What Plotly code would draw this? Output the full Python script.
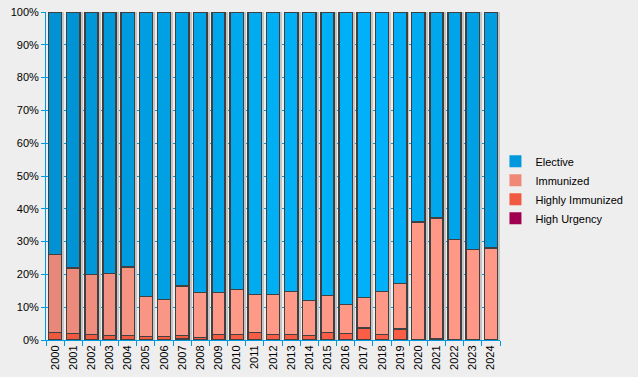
import plotly.graph_objects as go

years = [str(y) for y in range(2000, 2025)]
high_urgency = [0, 0, 0, 0, 0, 0, 0, 0.3, 0, 0, 0, 0, 0, 0, 0, 0, 0, 0, 0, 0, 0, 0.3, 0, 0, 0]
highly_immunized = [2.3, 2.0, 1.7, 1.4, 1.4, 1.1, 1.1, 1.1, 0.8, 1.7, 1.7, 2.3, 1.7, 1.7, 1.4, 2.3, 2.0, 3.6, 1.7, 3.3, 0, 0, 0, 0, 0]
immunized = [23.8, 19.9, 18.3, 18.9, 20.8, 12.2, 11.3, 15.0, 13.7, 12.8, 13.7, 11.6, 12.2, 13.1, 10.7, 11.3, 8.9, 9.4, 13.1, 14.0, 36.0, 36.9, 30.7, 27.6, 28.0]
elective = [73.9, 78.1, 80.0, 79.7, 77.8, 86.7, 87.6, 83.6, 85.5, 85.5, 84.6, 86.1, 86.1, 85.2, 87.9, 86.4, 89.1, 87.0, 85.2, 82.7, 64.0, 62.8, 69.3, 72.4, 72.0]
shadow = [100] * len(years)

n = len(years)

def grad(stops, i):
    for (i0, c0), (i1, c1) in zip(stops, stops[1:]):
        if i0 <= i <= i1:
            t = (i - i0) / (i1 - i0)
            c = [round(a + (b - a) * t) for a, b in zip(c0, c1)]
            return "rgb(%d,%d,%d)" % tuple(c)
    return "rgb(%d,%d,%d)" % tuple(stops[-1][1])

blue_stops = [(0, (0, 146, 210)), (13, (0, 176, 246)), (18, (0, 176, 248)), (24, (0, 158, 224))]
salmon_stops = [(0, (232, 136, 122)), (4, (246, 148, 132)), (10, (255, 154, 136)), (24, (255, 152, 134))]
red_stops = [(0, (240, 88, 64)), (24, (255, 96, 72))]
blue_cols = [grad(blue_stops, i) for i in range(n)]
salmon_cols = [grad(salmon_stops, i) for i in range(n)]
red_cols = [grad(red_stops, i) for i in range(n)]

outline = dict(color="#404040", width=1.5)
fig = go.Figure()
fig.add_trace(go.Bar(x=years, y=shadow, xaxis="x", yaxis="y", marker=dict(color="#c4c4c4", line=dict(width=0)),
                     showlegend=False, hoverinfo="skip"))
fig.add_trace(go.Bar(x=years, y=high_urgency, name="High Urgency", xaxis="x2",
                     marker=dict(color="#a0004f", line=outline), showlegend=False))
fig.add_trace(go.Bar(x=years, y=highly_immunized, name="Highly Immunized", xaxis="x2",
                     marker=dict(color=red_cols, line=outline), showlegend=False))
fig.add_trace(go.Bar(x=years, y=immunized, name="Immunized", xaxis="x2",
                     marker=dict(color=salmon_cols, line=outline), showlegend=False))
fig.add_trace(go.Bar(x=years, y=elective, name="Elective", xaxis="x2",
                     marker=dict(color=blue_cols, line=outline), showlegend=False))

for name, col in [("High Urgency", "#a0004f"), ("Highly Immunized", "#f05a40"),
                  ("Immunized", "#f08878"), ("Elective", "#0099dd")]:
    fig.add_trace(go.Scatter(x=[None], y=[None], mode="markers", name=name, xaxis="x2",
                             marker=dict(symbol="square", size=10, color=col, line=dict(width=0))))

blue = "#0099dd"
fig.update_layout(
    width=638, height=377,
    margin=dict(l=46, r=138, t=12, b=37, autoexpand=False),
    paper_bgcolor="#eeeeee", plot_bgcolor="#eeeeee",
    barmode="stack", bargap=0.27,
    font=dict(family="Liberation Sans, Arial, sans-serif", size=11, color="#000000"),
    xaxis=dict(type="category", range=[-0.5 - 0.15, n - 0.5 - 0.15], showticklabels=False,
               showgrid=False, zeroline=False, showline=False, ticks="", automargin=False),
    xaxis2=dict(type="category", overlaying="x", side="bottom", range=[-0.5, n - 0.5],
                tickangle=-90, ticks="outside", tickson="boundaries", ticklen=5,
                tickcolor=blue, showline=True, linecolor=blue, linewidth=1,
                showgrid=False, zeroline=False, tickfont=dict(size=11), automargin=False),
    yaxis=dict(range=[0, 100], dtick=10, ticksuffix="%", showgrid=True, gridcolor=blue,
               gridwidth=1, showline=True, linecolor=blue, ticks="outside", ticklen=4,
               tickcolor=blue, zeroline=False, tickfont=dict(size=11), automargin=False),
    legend=dict(x=0.99, y=0.458, xanchor="left", yanchor="middle", traceorder="reversed",
                bgcolor="rgba(0,0,0,0)", font=dict(size=11), itemsizing="constant",
                tracegroupgap=0, itemwidth=30),
    showlegend=True,
)
fig.write_html("out.html", config={"displayModeBar": False},
               post_script="document.body.style.margin='0';document.body.style.background='#eeeeee';")
